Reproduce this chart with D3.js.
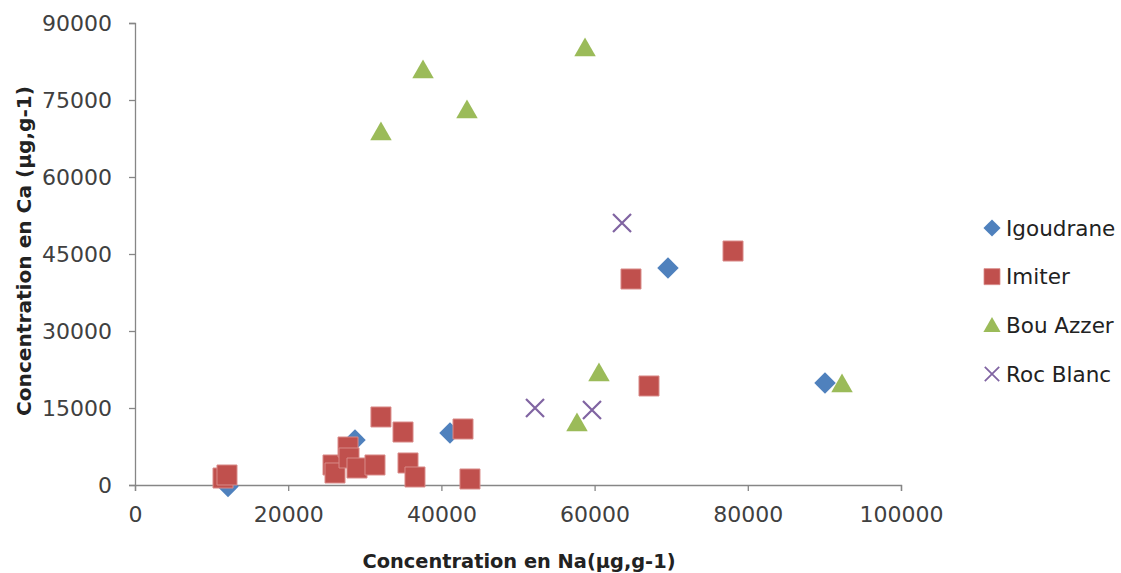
<!DOCTYPE html>
<html><head><meta charset="utf-8">
<script src="https://cdn.jsdelivr.net/npm/d3@7"></script>
<style>body{margin:0;background:#fff}svg{display:block}</style>
</head><body>
<svg id="c" width="1121" height="573"></svg>
<script>
const xTicks = [0, 20000, 40000, 60000, 80000, 100000];
const yTicks = [0, 15000, 30000, 45000, 60000, 75000, 90000];
const seriesNames = ["Igoudrane", "Imiter", "Bou Azzer", "Roc Blanc"];
const seriesColors = ["#4F81BD", "#C0504D", "#9BBB59", "#8064A2"];
const igoudraneNa = [12140, 28720, 41120, 69580, 90080];
const igoudraneCa = [-300, 8770, 10130, 42270, 19870];
const imiterNa = [11490, 12010, 25850, 26110, 27810, 27940, 28980, 31330, 32110, 34990, 35640, 36550, 42820, 43730, 64750, 78070, 67100];
const imiterCa = [1360, 1950, 3900, 2340, 7400, 5260, 3310, 3900, 13250, 10320, 4290, 1560, 10910, 1170, 40130, 45580, 19290];
const bouAzzerNa = [32110, 37600, 43340, 58750, 60570, 57700, 92300];
const bouAzzerCa = [68770, 80850, 73050, 85130, 21820, 12080, 19680];
const rocBlancNa = [63580, 52220, 59660];
const rocBlancCa = [51040, 15000, 14610];
const xTitle = "Concentration en Na(µg,g-1)";
const yTitle = "Concentration en Ca (µg,g-1)";

const svg = d3.select("#c");
const x = d3.scaleLinear().domain([0, 100000]).range([135, 901]);
const y = d3.scaleLinear().domain([0, 90000]).range([485, 23]);
const font = "DejaVu Sans";

const yAxis = svg.append("g").attr("transform", "translate(135,0)")
  .call(d3.axisLeft(y).tickValues(yTicks).tickSize(6).tickPadding(17).tickFormat(d3.format("d")));
const xAxis = svg.append("g").attr("transform", "translate(0,485)")
  .call(d3.axisBottom(x).tickValues(xTicks).tickSize(6).tickPadding(15).tickFormat(d3.format("d")));
[xAxis, yAxis].forEach(a => {
  a.select(".domain").attr("stroke", "#868686").attr("stroke-width", 1.3);
  a.selectAll(".tick line").attr("stroke", "#868686").attr("stroke-width", 1.3);
  a.selectAll("text").attr("font-family", font).attr("font-size", 22).attr("fill", "#404040");
});

svg.append("text").attr("x", 519).attr("y", 568).attr("text-anchor", "middle")
  .attr("font-family", font).attr("font-weight", "bold").attr("font-size", 19).attr("fill", "#222")
  .attr("textLength", 313).attr("lengthAdjust", "spacingAndGlyphs")
  .text(xTitle);
svg.append("text").attr("transform", "translate(31,251) rotate(-90)").attr("text-anchor", "middle")
  .attr("font-family", font).attr("font-weight", "bold").attr("font-size", 19).attr("fill", "#222")
  .attr("textLength", 330).attr("lengthAdjust", "spacingAndGlyphs")
  .text(yTitle);

const shapes = [
  g => g.append("path").attr("d", d3.symbol(d3.symbolSquare, 230)()).attr("transform", "rotate(45)"),
  g => g.append("path").attr("d", d3.symbol(d3.symbolSquare, 400)()).attr("stroke", "#d98a88").attr("stroke-width", 1),
  g => g.append("path").attr("d", d3.symbol(d3.symbolTriangle, 200)()).attr("transform", "translate(0,2)"),
  g => g.append("path").attr("d", "M-9,-9L9,9M-9,9L9,-9").attr("fill", "none").attr("stroke-width", 2.2)
];
const data = [
  [igoudraneNa, igoudraneCa], [imiterNa, imiterCa], [bouAzzerNa, bouAzzerCa], [rocBlancNa, rocBlancCa]
];
data.forEach(([xs, ys], i) => {
  const pts = xs.map((v, j) => [v, ys[j]]);
  const g = svg.append("g").attr("fill", seriesColors[i]).attr("stroke", i === 3 ? seriesColors[i] : null);
  pts.forEach(p => {
    const m = g.append("g").attr("transform", `translate(${x(p[0])},${y(p[1])})`);
    shapes[i](m);
  });
});

const legendY = d3.scalePoint().domain(seriesNames).range([228, 374]);
seriesNames.forEach((n, i) => {
  const g = svg.append("g").attr("transform", `translate(992,${legendY(n)})`)
    .attr("fill", seriesColors[i]).attr("stroke", i === 3 ? seriesColors[i] : null);
  const s = g.append("g").attr("transform", "scale(0.8)");
  shapes[i](s);
  svg.append("text").attr("x", 1006).attr("y", legendY(n)).attr("dy", "0.36em")
    .attr("font-family", font).attr("font-size", 21.5).attr("fill", "#222").text(n);
});
</script>
</body></html>
